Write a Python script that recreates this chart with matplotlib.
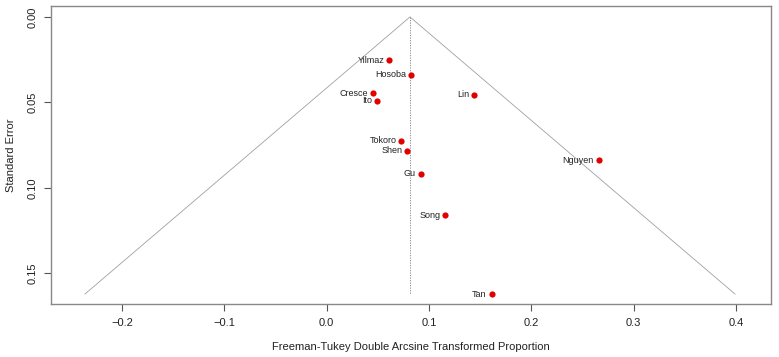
import matplotlib
matplotlib.use("Agg")
import matplotlib.pyplot as plt
import numpy as np

plt.rcParams['font.family'] = ['Liberation Sans', 'DejaVu Sans']

studies = ["Yilmaz", "Hosoba", "Cresce", "Ito", "Lin", "Tokoro", "Shen", "Gu", "Song", "Nguyen", "Tan"]
effect = [0.0612, 0.0824, 0.0450, 0.0489, 0.1440, 0.0730, 0.0789, 0.0919, 0.1160, 0.2659, 0.1612]
se = [0.0252, 0.0337, 0.0445, 0.0490, 0.0456, 0.0724, 0.0784, 0.0917, 0.1161, 0.0839, 0.1621]
pooled = 0.0814
xticks = [-0.2, -0.1, 0.0, 0.1, 0.2, 0.3, 0.4]
yticks = [0.00, 0.05, 0.10, 0.15]

fig = plt.figure(figsize=(7.79, 3.57), dpi=100)
ax = fig.add_axes([51.3/779, 1-304.3/357, (771.3-51.3)/779, (304.3-6)/357])

semax = max(se)
ax.plot([pooled - 1.96*semax, pooled, pooled + 1.96*semax], [semax, 0, semax],
        color='#a0a0a0', lw=0.6, zorder=1)
ax.plot([pooled, pooled], [0, semax], color='#808080', lw=0.6, ls=(0, (1.5, 1.5)), zorder=1)

ax.scatter(effect, se, s=20, color='#e00000', zorder=3, linewidths=0)
for name, x, y in zip(studies, effect, se):
    ax.annotate(name, (x, y), xytext=(-3.5, 0), textcoords='offset points',
                ha='right', va='center', fontsize=6.5, color='#222222')

ax.set_xlim(-0.2692, 0.4346)
ax.set_ylim(0.1681, -0.0064)
ax.set_xticks(xticks)
ax.set_xticklabels([f"{t:.1f}".replace("-", "\u2212") for t in xticks])
ax.set_yticks(yticks)
ax.set_yticklabels([f"{t:.2f}" for t in yticks], rotation=90, va='center')
ax.tick_params(axis='both', direction='out', length=5, width=0.8, color='#555555',
               labelsize=8, labelcolor='#222222', pad=5)
for s in ax.spines.values():
    s.set_color('#888888')
    s.set_linewidth(1.0)

ax.set_xlabel("Freeman-Tukey Double Arcsine Transformed Proportion", fontsize=8, color='#222222')
ax.xaxis.set_label_coords(0.5, (304.3-347)/298.3)
ax.xaxis.label.set_va('center')
ax.set_ylabel("Standard Error", fontsize=8, color='#222222')
ax.yaxis.set_label_coords((11-51.3)/720, 0.5)
ax.yaxis.label.set_va('center')

fig.savefig("out.png", dpi=100)
